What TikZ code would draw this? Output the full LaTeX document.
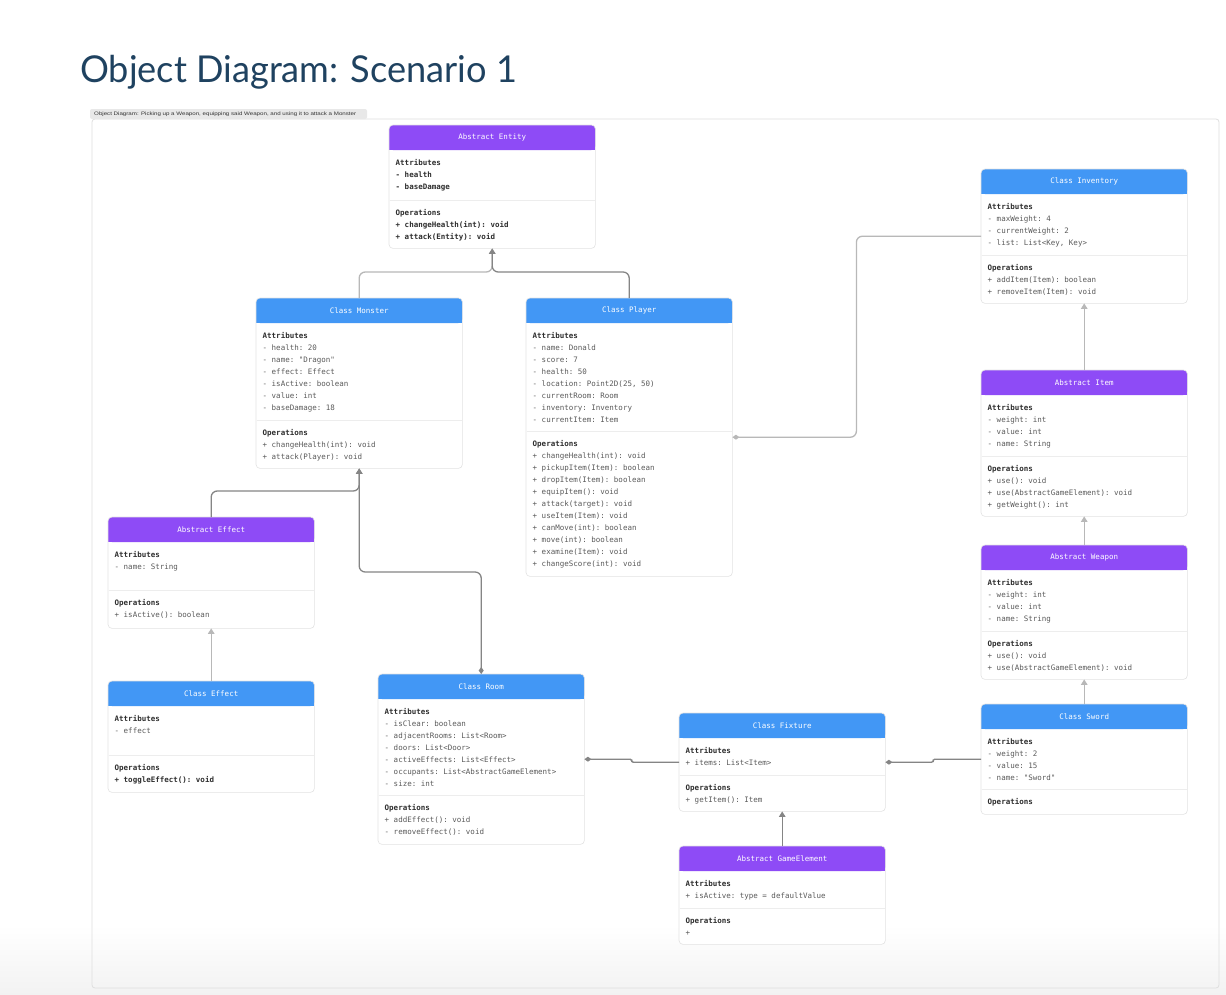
\documentclass[tikz,border=0pt]{standalone}
\usepackage{fontspec}
\setmonofont{DejaVu Sans Mono}
\setsansfont{Liberation Sans}
\newfontfamily\titlefont{Lato}
\usetikzlibrary{arrows.meta,calc}
\definecolor{hpurple}{HTML}{8E4BF6}
\definecolor{hblue}{HTML}{4297F5}
\definecolor{titleblue}{HTML}{1F4260}
\definecolor{itemgray}{HTML}{5A5A5A}
\definecolor{headgray}{HTML}{2E2E2E}
\definecolor{darkline}{HTML}{858585}
\definecolor{lightline}{HTML}{B8B8B8}
\newcommand\secthd[1]{\textcolor{headgray}{\bfseries #1}}
\newcommand\bolditem[1]{\textcolor{headgray}{\bfseries #1}}
\tikzset{
  diatip/.tip={Diamond[width=5pt,length=7pt]},
  tritip/.tip={Triangle[width=6.5pt,length=5.5pt]},
  umlframe/.style={fill=white, minimum width=206pt, inner sep=0pt, rounded corners=4pt},
  boxline/.style={draw=gray!22, line width=0.6pt, rounded corners=4pt},
  sepline/.style={draw=gray!14, line width=0.8pt},
  headtext/.style={text=white, font=\fontsize{7.5}{9}\selectfont\ttfamily, inner sep=0pt},
  bodytext/.style={anchor=north west, inner sep=0pt, align=left, text=itemgray, font=\fontsize{7.5}{12}\selectfont\ttfamily},
  dconn/.style={draw=darkline, line width=1.3pt, rounded corners=6pt},
  lconn/.style={draw=lightline, line width=1.3pt, rounded corners=6pt},
}
% name, x, ytop, height, sep y, colour, title, attrs, ops
\newcommand\umlbox[9]{%
  \node[umlframe, minimum height=#4pt, anchor=north west] (#1) at (#2,#3) {};
  \fill[#6, rounded corners=4pt] (#1.north west) rectangle ([yshift=-25pt]#1.north east);
  \fill[#6] ([yshift=-10pt]#1.north west) rectangle ([yshift=-25pt]#1.north east);
  \draw[boxline] (#1.north west) rectangle (#1.south east);
  \node[headtext] (#1-title) at ([yshift=-12.5pt]#1.north) {#7};
  \draw[sepline] (#2+0.5,#5) -- ++(205,0);
  \node[bodytext] (#1-attr) at (#2+6.5,#3+32) {\strut#8};
  \node[bodytext] (#1-ops) at (#2+6.5,#5+7) {\strut#9};
}
\begin{document}
\begin{tikzpicture}[x=1pt,y=-1pt]
\useasboundingbox (0,0) rectangle (1226,994);
\fill[white] (0,0) rectangle (1226,994);
\shade[top color=white, bottom color=gray!10] (0,925) rectangle (1226,994);
% title
\node[anchor=base west, inner sep=0pt, text=titleblue, font=\titlefont\fontsize{37}{40}\selectfont] (title) at (80,82) {\resizebox{437pt}{\height}{Object Diagram: Scenario 1}};
% frame and tab
\draw[gray!25, line width=0.8pt, rounded corners=3pt] (92,119) rectangle (1219,988);
\fill[gray!18, rounded corners=2pt] (90,109) rectangle (367,119);
\node[anchor=west, inner sep=0pt, text=black!80, font=\sffamily\fontsize{5}{6}\selectfont] (subtitle) at (94,114) {\resizebox{262pt}{\height}{Object Diagram: Picking up a Weapon, equipping said Weapon, and using it to attack a Monster}};

% boxes
\umlbox{entity}{389}{125}{123}{200}{hpurple}{Abstract Entity}
 {\secthd{Attributes}\\\bolditem{- health}\\\bolditem{- baseDamage}}
 {\secthd{Operations}\\\bolditem{+ changeHealth(int): void}\\\bolditem{+ attack(Entity): void}}
\umlbox{monster}{256}{298}{170}{420}{hblue}{Class Monster}
 {\secthd{Attributes}\\- health: 20\\- name: "Dragon"\\- effect: Effect\\- isActive: boolean\\- value: int\\- baseDamage: 18}
 {\secthd{Operations}\\+ changeHealth(int): void\\+ attack(Player): void}
\umlbox{player}{526}{298}{278}{431}{hblue}{Class Player}
 {\secthd{Attributes}\\- name: Donald\\- score: 7\\- health: 50\\- location: Point2D(25, 50)\\- currentRoom: Room\\- inventory: Inventory\\- currentItem: Item}
 {\secthd{Operations}\\+ changeHealth(int): void\\+ pickupItem(Item): boolean\\+ dropItem(Item): boolean\\+ equipItem(): void\\+ attack(target): void\\+ useItem(Item): void\\+ canMove(int): boolean\\+ move(int): boolean\\+ examine(Item): void\\+ changeScore(int): void}
\umlbox{inventory}{981}{169}{134}{255}{hblue}{Class Inventory}
 {\secthd{Attributes}\\- maxWeight: 4\\- currentWeight: 2\\- list: List<Key, Key>}
 {\secthd{Operations}\\+ addItem(Item): boolean\\+ removeItem(Item): void}
\umlbox{item}{981}{370}{146}{456}{hpurple}{Abstract Item}
 {\secthd{Attributes}\\- weight: int\\- value: int\\- name: String}
 {\secthd{Operations}\\+ use(): void\\+ use(AbstractGameElement): void\\+ getWeight(): int}
\umlbox{weapon}{981}{545}{134}{631}{hpurple}{Abstract Weapon}
 {\secthd{Attributes}\\- weight: int\\- value: int\\- name: String}
 {\secthd{Operations}\\+ use(): void\\+ use(AbstractGameElement): void}
\umlbox{sword}{981}{704}{110}{789}{hblue}{Class Sword}
 {\secthd{Attributes}\\- weight: 2\\- value: 15\\- name: "Sword"}
 {\secthd{Operations}}
\umlbox{abseffect}{108}{517}{111}{590}{hpurple}{Abstract Effect}
 {\secthd{Attributes}\\- name: String}
 {\secthd{Operations}\\+ isActive(): boolean}
\umlbox{classeffect}{108}{681}{111}{755}{hblue}{Class Effect}
 {\secthd{Attributes}\\- effect}
 {\secthd{Operations}\\\bolditem{+ toggleEffect(): void}}
\umlbox{room}{378}{674}{170}{795}{hblue}{Class Room}
 {\secthd{Attributes}\\- isClear: boolean\\- adjacentRooms: List<Room>\\- doors: List<Door>\\- activeEffects: List<Effect>\\- occupants: List<AbstractGameElement>\\- size: int}
 {\secthd{Operations}\\+ addEffect(): void\\- removeEffect(): void}
\umlbox{fixture}{679}{713}{98}{775}{hblue}{Class Fixture}
 {\secthd{Attributes}\\+ items: List<Item>}
 {\secthd{Operations}\\+ getItem(): Item}
\umlbox{gameel}{679}{846}{98}{908}{hpurple}{Abstract GameElement}
 {\secthd{Attributes}\\+ isActive: type = defaultValue}
 {\secthd{Operations}\\+}

% connectors
\draw[lconn, -tritip] (monster.north) -- ++(0,-26) -| (entity.south);
\draw[dconn, -tritip] (player.north) -- ++(0,-26) -| (entity.south);
\draw[lconn, diatip-] (player.east) -- ++(124,0) |- (inventory.west);
\draw[lconn, -tritip] (item.north) -- (inventory.south);
\draw[lconn, -tritip] (weapon.north) -- (item.south);
\draw[lconn, -tritip] (sword.north) -- (weapon.south);
\draw[lconn, -tritip] (classeffect.north) -- (abseffect.south);
\draw[dconn, -tritip] (abseffect.north) -- ++(0,-26) -| (monster.south);
\draw[dconn, diatip-tritip] (room.north) -- ++(0,-102) -| (monster.south);
\draw[dconn, rounded corners=1.4pt, diatip-] (room.east) -| ($(room.east)!0.5!(fixture.west)$) |- (fixture.west);
\draw[dconn, rounded corners=1.4pt, diatip-] (fixture.east) -| ($(fixture.east)!0.5!(sword.west)$) |- (sword.west);
\draw[dconn, -tritip] (gameel.north) -- (fixture.south);
\end{tikzpicture}
\end{document}
